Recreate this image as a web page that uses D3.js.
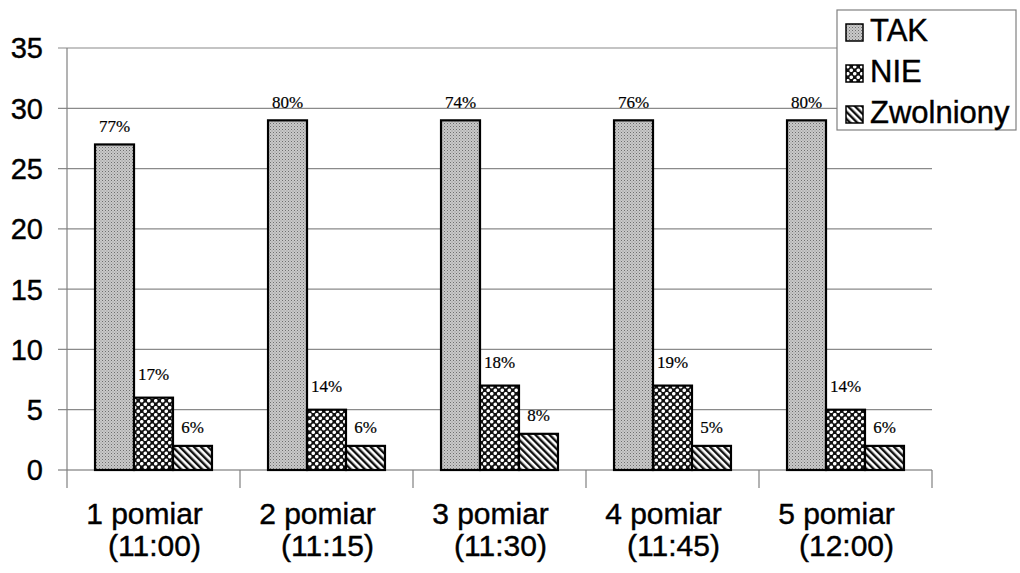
<!DOCTYPE html>
<html>
<head>
<meta charset="utf-8">
<script src="https://cdn.jsdelivr.net/npm/d3@7"></script>
<style>
  html, body { margin: 0; padding: 0; background: #fff; }
  svg { display: block; }
</style>
</head>
<body>
<div id="chart"></div>
<script>
const categories = ["1 pomiar", "2 pomiar", "3 pomiar", "4 pomiar", "5 pomiar"];
const times = ["(11:00)", "(11:15)", "(11:30)", "(11:45)", "(12:00)"];
const seriesNames = ["TAK", "NIE", "Zwolniony"];
const takValues = [27, 29, 29, 29, 29];
const nieValues = [6, 5, 7, 7, 5];
const zwolValues = [2, 2, 3, 2, 2];
const takPct = ["77%", "80%", "74%", "76%", "80%"];
const niePct = ["17%", "14%", "18%", "19%", "14%"];
const zwolPct = ["6%", "6%", "8%", "5%", "6%"];
const yTicks = [0, 5, 10, 15, 20, 25, 30, 35];

const width = 1020, height = 573;
const plotLeft = 67, plotRight = 932, plotTop = 48, plotBottom = 470;

const series = [
    { name: seriesNames[0], values: takValues, pct: takPct, fill: "url(#pTak)", gap: 12 },
    { name: seriesNames[1], values: nieValues, pct: niePct, fill: "url(#pNie)", gap: 18 },
    { name: seriesNames[2], values: zwolValues, pct: zwolPct, fill: "url(#pZwol)", gap: 13 }
];

const svg = d3.select("#chart")
    .append("svg")
    .attr("width", width)
    .attr("height", height);

svg.append("rect").attr("width", width).attr("height", height).attr("fill", "#fff");

// fill patterns
const defs = svg.append("defs");

const pTak = defs.append("pattern")
    .attr("id", "pTak")
    .attr("width", 3).attr("height", 3)
    .attr("patternUnits", "userSpaceOnUse");
pTak.append("rect").attr("width", 3).attr("height", 3).attr("fill", "#c9c9c9");
pTak.append("rect").attr("x", 0).attr("y", 0).attr("width", 1).attr("height", 1).attr("fill", "#6e6e6e");
pTak.append("rect").attr("x", 1.5).attr("y", 1.5).attr("width", 1).attr("height", 1).attr("fill", "#8e8e8e");

const pNie = defs.append("pattern")
    .attr("id", "pNie")
    .attr("width", 7).attr("height", 7)
    .attr("patternUnits", "userSpaceOnUse");
pNie.append("rect").attr("width", 7).attr("height", 7).attr("fill", "#111");
[[1.75, 1.75], [5.25, 5.25]].forEach(([cx, cy]) => {
    pNie.append("circle").attr("cx", cx).attr("cy", cy).attr("r", 1.8).attr("fill", "#fff");
});

const pZwol = defs.append("pattern")
    .attr("id", "pZwol")
    .attr("width", 5).attr("height", 5)
    .attr("patternUnits", "userSpaceOnUse")
    .attr("patternTransform", "rotate(-45)");
pZwol.append("rect").attr("width", 5).attr("height", 5).attr("fill", "#fff");
pZwol.append("rect").attr("width", 2.4).attr("height", 5).attr("fill", "#111");

// scales
const x = d3.scaleBand()
    .domain(categories)
    .range([plotLeft, plotRight])
    .paddingInner(0.324)
    .paddingOuter(0.162);

const xInner = d3.scaleBand()
    .domain(seriesNames)
    .range([0, x.bandwidth()]);

const y = d3.scaleLinear()
    .domain([0, 35])
    .range([plotBottom, plotTop]);

// gridlines
svg.append("g")
    .selectAll("line")
    .data(yTicks)
    .join("line")
    .attr("x1", plotLeft - 9)
    .attr("x2", plotRight)
    .attr("y1", d => y(d))
    .attr("y2", d => y(d))
    .attr("stroke", d => d === 0 ? "#666" : "#8a8a8a")
    .attr("stroke-width", 1.2);

// y axis line
svg.append("line")
    .attr("x1", plotLeft).attr("x2", plotLeft)
    .attr("y1", plotTop).attr("y2", plotBottom + 18)
    .attr("stroke", "#808080")
    .attr("stroke-width", 1.2);

// category separator ticks
svg.append("g")
    .selectAll("line")
    .data(categories)
    .join("line")
    .attr("x1", d => x(d) - x.step() * x.paddingOuter() + x.step())
    .attr("x2", d => x(d) - x.step() * x.paddingOuter() + x.step())
    .attr("y1", plotBottom)
    .attr("y2", plotBottom + 18)
    .attr("stroke", "#808080")
    .attr("stroke-width", 1.2);

// y tick labels
svg.append("g")
    .selectAll("text")
    .data(yTicks)
    .join("text")
    .attr("x", 43)
    .attr("y", d => y(d))
    .attr("dy", "0.36em")
    .attr("text-anchor", "end")
    .attr("font-family", "Liberation Sans, Arial, sans-serif")
    .attr("font-size", 29)
    .attr("fill", "#000")
    .attr("stroke", "#000")
    .attr("stroke-width", 0.4)
    .text(d => d);

// bars
const groups = svg.append("g")
    .selectAll("g")
    .data(series)
    .join("g");

groups.selectAll("rect")
    .data(s => s.values.map((v, i) => ({ s, v, cat: categories[i], pct: s.pct[i] })))
    .join("rect")
    .attr("x", d => x(d.cat) + xInner(d.s.name))
    .attr("y", d => y(d.v))
    .attr("width", xInner.bandwidth())
    .attr("height", d => y(0) - y(d.v))
    .attr("fill", d => d.s.fill)
    .attr("stroke", "#000")
    .attr("stroke-width", 2.2);

// percentage labels
groups.selectAll("text")
    .data(s => s.values.map((v, i) => ({ s, v, cat: categories[i], pct: s.pct[i] })))
    .join("text")
    .attr("x", d => x(d.cat) + xInner(d.s.name) + xInner.bandwidth() / 2)
    .attr("y", d => y(d.v) - d.s.gap)
    .attr("text-anchor", "middle")
    .attr("font-family", "Liberation Serif, Times New Roman, serif")
    .attr("font-size", 17)
    .attr("fill", "#000")
    .attr("stroke", "#000")
    .attr("stroke-width", 0.2)
    .text(d => d.pct);

// category labels
const catLabels = svg.append("g")
    .selectAll("text")
    .data(categories)
    .join("text")
    .attr("text-anchor", "middle")
    .attr("font-family", "Liberation Sans, Arial, sans-serif")
    .attr("font-size", 30)
    .attr("fill", "#000")
    .attr("stroke", "#000")
    .attr("stroke-width", 0.4);

catLabels.append("tspan")
    .attr("x", d => x(d) + x.bandwidth() / 2 - 9)
    .attr("y", 524)
    .text(d => d);

catLabels.append("tspan")
    .attr("x", d => x(d) + x.bandwidth() / 2 + 1)
    .attr("y", 556)
    .text((d, i) => times[i]);

// legend
const legend = svg.append("g").attr("transform", "translate(837,10)");
legend.append("rect")
    .attr("width", 179)
    .attr("height", 120)
    .attr("fill", "#fff")
    .attr("stroke", "#808080")
    .attr("stroke-width", 1.2);

const legendItems = legend.selectAll("g")
    .data(series)
    .join("g")
    .attr("transform", (d, i) => `translate(9, ${14 + i * 41})`);

legendItems.append("rect")
    .attr("width", 17)
    .attr("height", 17)
    .attr("fill", d => d.fill)
    .attr("stroke", "#000")
    .attr("stroke-width", 1.5);

legendItems.append("text")
    .attr("x", 24)
    .attr("y", 17)
    .attr("font-family", "Liberation Sans, Arial, sans-serif")
    .attr("font-size", 31)
    .attr("fill", "#000")
    .attr("stroke", "#000")
    .attr("stroke-width", 0.4)
    .text(d => d.name);
</script>
</body>
</html>
